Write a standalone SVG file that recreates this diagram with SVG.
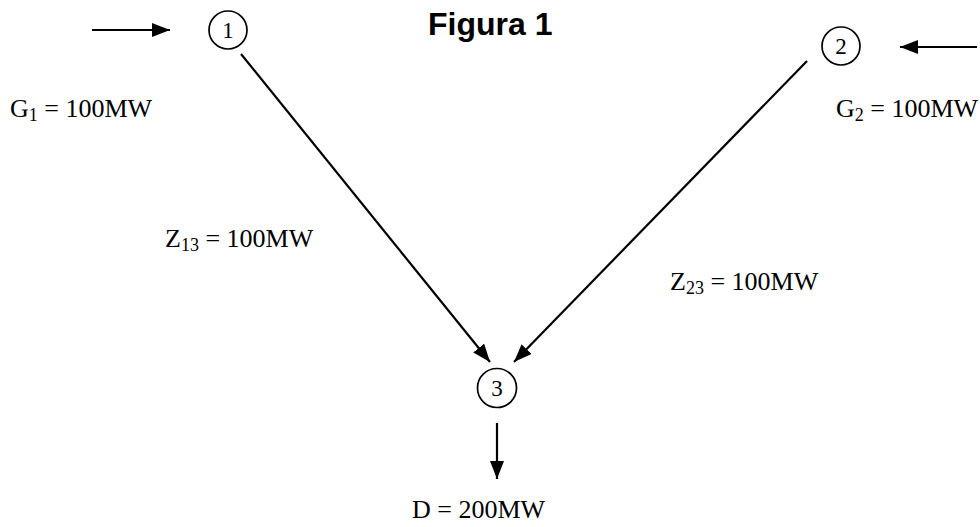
<svg xmlns="http://www.w3.org/2000/svg" width="980" height="527" viewBox="0 0 980 527">
<style>
.t{font-family:"Liberation Serif","Times New Roman",serif;font-size:26px;fill:#000}
.n{font-family:"Liberation Serif","Times New Roman",serif;font-size:23px;fill:#000}
.c{fill:none;stroke:#000;stroke-width:1.7}
.l{stroke:#000;stroke-width:2.2;fill:none}
</style>
<defs>
<marker id="ah" viewBox="0 0 18 14" refX="18" refY="7" markerWidth="18" markerHeight="14" markerUnits="userSpaceOnUse" orient="auto">
<path d="M0,0 L18,7 L0,14 Z" fill="#000"/>
</marker>
</defs>
<rect width="980" height="527" fill="#fff"/>
<text x="428" y="35" font-family="Liberation Sans,Arial,sans-serif" font-weight="bold" font-size="32">Figura 1</text>
<g id="node1">
<circle class="c" cx="228" cy="30" r="19"/>
<text class="n" x="228" y="38" text-anchor="middle">1</text>
</g>
<g id="node2">
<circle class="c" cx="841" cy="46" r="19"/>
<text class="n" x="841" y="54" text-anchor="middle">2</text>
</g>
<g id="node3">
<circle class="c" cx="497" cy="388" r="19.5"/>
<text class="n" x="497" y="396" text-anchor="middle">3</text>
</g>
<g id="connectors">
<line class="l" x1="92" y1="30" x2="170" y2="30" marker-end="url(#ah)"/>
<line class="l" x1="977" y1="47" x2="900" y2="47" marker-end="url(#ah)"/>
<line class="l" x1="241" y1="54" x2="490" y2="362" marker-end="url(#ah)"/>
<line class="l" x1="807" y1="61" x2="514" y2="362" marker-end="url(#ah)"/>
<line class="l" x1="497" y1="423" x2="497" y2="479" marker-end="url(#ah)"/>
</g>
<g id="labels">
<text class="t" x="10" y="117">G<tspan font-size="18" dy="4">1</tspan><tspan dy="-4"> = 100MW</tspan></text>
<text class="t" x="836" y="117">G<tspan font-size="18" dy="4">2</tspan><tspan dy="-4"> = 100MW</tspan></text>
<text class="t" x="165" y="247">Z<tspan font-size="18" dy="4">13</tspan><tspan dy="-4"> = 100MW</tspan></text>
<text class="t" x="670" y="290">Z<tspan font-size="18" dy="4">23</tspan><tspan dy="-4"> = 100MW</tspan></text>
<text class="t" x="412" y="518">D = 200MW</text>
</g>
</svg>
